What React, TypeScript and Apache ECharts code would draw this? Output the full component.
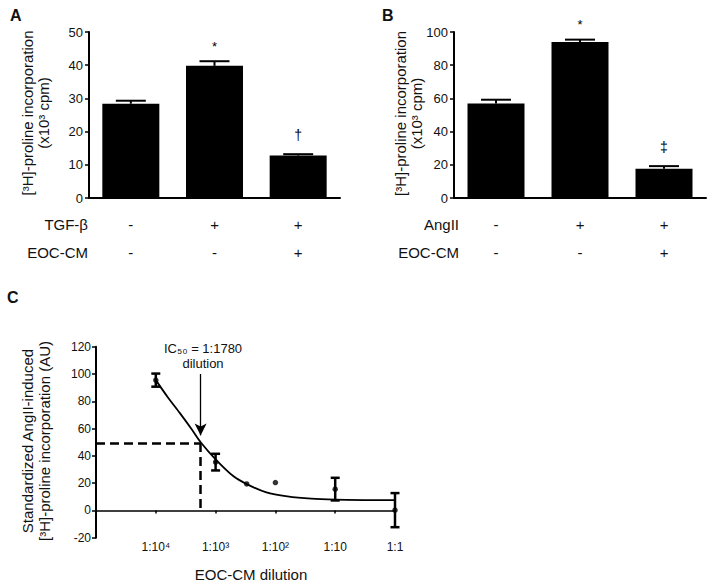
import React, { useEffect, useRef } from "react";
import * as echarts from "echarts";

// ---------- Panel A ----------
const catsA = ["Control", "TGF-β", "TGF-β + EOC-CM"];
const valuesA = [28.4, 39.8, 12.8];
const semA = [0.9, 1.4, 0.4];
const marksA = ["", "*", "†"];
const rowTgf = ["-", "+", "+"];
const rowEocA = ["-", "-", "+"];

// ---------- Panel B ----------
const catsB = ["Control", "AngII", "AngII + EOC-CM"];
const valuesB = [57.0, 94.0, 17.6];
const semB = [2.2, 1.4, 1.6];
const marksB = ["", "*", "‡"];
const rowAng = ["-", "+", "+"];
const rowEocB = ["-", "-", "+"];

// ---------- Panel C ----------
// x = log10 of EOC-CM dilution fraction
const dilLog = [-4, -3, -2.48, -2, -1, 0];
const meanC = [95.5, 35.4, 19.4, 20.4, 15.6, 0.2];
const semC = [4.8, 6.1, 0, 0, 8.3, 12.5];
const fitX = [-4, -3.8, -3.6, -3.4, -3.25, -3.0, -2.7, -2.48, -2.15, -1.8, -1.4, -1.0, -0.5, 0];
const fitY = [95.5, 83, 71.5, 59.5, 50, 37.5, 25, 19.3, 13.2, 10.3, 8.6, 7.9, 7.6, 7.5];
const tickLog = [-4, -3, -2, -1, 0];
const tickLabels = ["1:10⁴", "1:10³", "1:10²", "1:10", "1:1"];
const ic50Dilution = 1780;
const ic50Y = 49.5;

const FONT = "'Liberation Sans', Arial, Helvetica, sans-serif";
const INK = "#000";

function barErr(marks: string[]) {
  return (params: any, api: any) => {
    const i = api.value(0);
    const m = api.value(1);
    const s = api.value(2);
    const base = api.coord([i, m]);
    const top = api.coord([i, m + s]);
    const children: any[] = [
      { type: "line", shape: { x1: base[0], y1: base[1], x2: top[0], y2: top[1] }, style: { stroke: INK, lineWidth: 2 } },
      { type: "line", shape: { x1: top[0] - 15, y1: top[1], x2: top[0] + 15, y2: top[1] }, style: { stroke: INK, lineWidth: 2 } },
    ];
    const mk = marks[params.dataIndex];
    if (mk) {
      const star = mk === "*";
      children.push({
        type: "text",
        x: top[0],
        y: top[1] - (star ? 15 : 19),
        style: { text: mk, align: "center", verticalAlign: "middle", fontSize: star ? 13 : 14, fill: INK, fontFamily: FONT },
      });
    }
    return { type: "group", children };
  };
}

function dotErr(params: any, api: any) {
  const x = api.value(0);
  const m = api.value(1);
  const s = api.value(2);
  if (!s) return { type: "group", children: [] };
  const hi = api.coord([x, m + s]);
  const lo = api.coord([x, m - s]);
  const st = { stroke: INK, lineWidth: 2.5 };
  return {
    type: "group",
    children: [
      { type: "line", shape: { x1: hi[0], y1: hi[1], x2: lo[0], y2: lo[1] }, style: st },
      { type: "line", shape: { x1: hi[0] - 4.5, y1: hi[1], x2: hi[0] + 4.5, y2: hi[1] }, style: st },
      { type: "line", shape: { x1: lo[0] - 4.5, y1: lo[1], x2: lo[0] + 4.5, y2: lo[1] }, style: st },
    ],
  };
}

function barYAxis(gridIndex: number, max: number, interval: number) {
  return {
    type: "value",
    gridIndex,
    min: 0,
    max,
    interval,
    axisLine: { show: true, lineStyle: { color: INK, width: 2 } },
    axisTick: { show: true, length: 4, lineStyle: { color: INK, width: 1.5 } },
    axisLabel: { color: "#111", fontSize: 13, margin: 6, fontFamily: FONT },
    splitLine: { show: false },
  };
}

function barXAxis(gridIndex: number, cats: string[], row1: string[], row2: string[]) {
  return {
    type: "category",
    gridIndex,
    data: cats,
    axisLine: { show: true, lineStyle: { color: INK, width: 2 } },
    axisTick: { show: false },
    axisLabel: {
      margin: 12,
      fontSize: 15,
      lineHeight: 28,
      color: "#111",
      fontFamily: FONT,
      formatter: (_v: string, idx: number) => row1[idx] + "\n" + row2[idx],
    },
  };
}

function rotTitle(x: number, y: number, text: string, lh: number) {
  return {
    type: "text",
    x,
    y,
    rotation: Math.PI / 2,
    style: { text, align: "center", verticalAlign: "middle", fontSize: 15, lineHeight: lh, fill: "#111", fontFamily: FONT },
  };
}

function plainText(x: number, y: number, text: string, size: number, align: string, bold = false) {
  return {
    type: "text",
    x,
    y,
    style: { text, align, verticalAlign: "middle", fontSize: size, fontWeight: bold ? "bold" : "normal", fill: "#111", fontFamily: FONT },
  };
}

export default function App() {
  const ref = useRef<HTMLDivElement>(null);
  useEffect(() => {
    if (!ref.current) return;
    const chart = echarts.init(ref.current, null, { renderer: "svg" });
    const ic50Log = -Math.log10(ic50Dilution);
    const option: any = {
      animation: false,
      textStyle: { fontFamily: FONT },
      grid: [
        { left: 89, top: 32, width: 251, height: 166 },
        { left: 454, top: 32, width: 252, height: 166 },
        { left: 96, top: 346.7, width: 299, height: 191 },
      ],
      xAxis: [
        barXAxis(0, catsA, rowTgf, rowEocA),
        barXAxis(1, catsB, rowAng, rowEocB),
        {
          type: "value",
          gridIndex: 2,
          min: -5,
          max: 0,
          interval: 1,
          position: "bottom",
          axisLine: { show: true, onZero: true, lineStyle: { color: INK, width: 1.6 } },
          axisTick: { show: true, length: 3, lineStyle: { color: INK, width: 1.5 } },
          axisLabel: { show: false },
          splitLine: { show: false },
        },
        {
          type: "value",
          gridIndex: 2,
          min: -5,
          max: 0,
          interval: 1,
          position: "bottom",
          axisLine: { show: false, onZero: false },
          axisTick: { show: false },
          axisLabel: {
            margin: 3,
            fontSize: 12,
            color: "#111",
            fontFamily: FONT,
            formatter: (v: number) => {
              const i = tickLog.indexOf(v);
              return i >= 0 ? tickLabels[i] : "";
            },
          },
          splitLine: { show: false },
        },
      ],
      yAxis: [
        barYAxis(0, 50, 10),
        barYAxis(1, 100, 20),
        {
          type: "value",
          gridIndex: 2,
          min: -20,
          max: 120,
          interval: 20,
          axisLine: { show: true, onZero: false, lineStyle: { color: INK, width: 2 } },
          axisTick: { show: true, length: 4, lineStyle: { color: INK, width: 1.5 } },
          axisLabel: { color: "#111", fontSize: 12, margin: 5, fontFamily: FONT },
          splitLine: { show: false },
        },
      ],
      series: [
        { type: "bar", xAxisIndex: 0, yAxisIndex: 0, data: valuesA, barWidth: 57, itemStyle: { color: INK } },
        {
          type: "custom",
          xAxisIndex: 0,
          yAxisIndex: 0,
          z: 5,
          renderItem: barErr(marksA),
          data: valuesA.map((v, i) => [i, v, semA[i]]),
        },
        { type: "bar", xAxisIndex: 1, yAxisIndex: 1, data: valuesB, barWidth: 57, itemStyle: { color: INK } },
        {
          type: "custom",
          xAxisIndex: 1,
          yAxisIndex: 1,
          z: 5,
          renderItem: barErr(marksB),
          data: valuesB.map((v, i) => [i, v, semB[i]]),
        },
        {
          type: "line",
          xAxisIndex: 2,
          yAxisIndex: 2,
          data: fitX.map((x, i) => [x, fitY[i]]),
          smooth: 0.3,
          showSymbol: false,
          lineStyle: { color: INK, width: 1.8 },
          markLine: {
            silent: true,
            symbol: ["none", "none"],
            label: { show: false },
            lineStyle: { color: INK, width: 2.5, type: [9, 5] },
            data: [
              [{ coord: [-5, ic50Y] }, { coord: [ic50Log, ic50Y] }],
              [{ coord: [ic50Log, ic50Y] }, { coord: [ic50Log, 0] }],
            ],
          },
        },
        {
          type: "line",
          xAxisIndex: 2,
          yAxisIndex: 2,
          data: [],
          markLine: {
            silent: true,
            symbol: ["none", "arrow"],
            symbolSize: [9, 12],
            label: { show: false },
            lineStyle: { color: INK, width: 1.3, type: "solid" },
            data: [[{ coord: [ic50Log, 100] }, { coord: [ic50Log, 55] }]],
          },
        },
        {
          type: "scatter",
          xAxisIndex: 2,
          yAxisIndex: 2,
          data: dilLog.map((x, i) => [x, meanC[i]]),
          symbolSize: 5.5,
          itemStyle: { color: INK },
          z: 6,
        },
        {
          type: "custom",
          xAxisIndex: 2,
          yAxisIndex: 2,
          z: 7,
          renderItem: dotErr,
          data: dilLog.map((x, i) => [x, meanC[i], semC[i]]),
        },
      ],
      graphic: [
        plainText(10, 15, "A", 16, "left", true),
        plainText(382, 15, "B", 16, "left", true),
        plainText(7, 297, "C", 16, "left", true),
        rotTitle(35, 113, "[³H]-proline incorporation\n(x10³ cpm)", 16),
        rotTitle(408, 113.5, "[³H]-proline incorporation\n(x10³ cpm)", 16),
        rotTitle(35.5, 441, "Standardized AngII-induced\n[³H]-proline incorporation (AU)", 17),
        plainText(88, 224, "TGF-β", 15, "right"),
        plainText(88, 252, "EOC-CM", 15, "right"),
        plainText(459, 224, "AngII", 15, "right"),
        plainText(459, 252, "EOC-CM", 15, "right"),
        plainText(203, 348, "IC₅₀ = 1:1780", 13, "center"),
        plainText(203, 363, "dilution", 13, "center"),
        plainText(251, 574, "EOC-CM dilution", 15, "center"),
      ],
    };
    chart.setOption(option);
    return () => chart.dispose();
  }, []);
  return <div ref={ref} style={{ position: "absolute", left: 0, top: 0, width: 714, height: 587, background: "#fff" }} />;
}
